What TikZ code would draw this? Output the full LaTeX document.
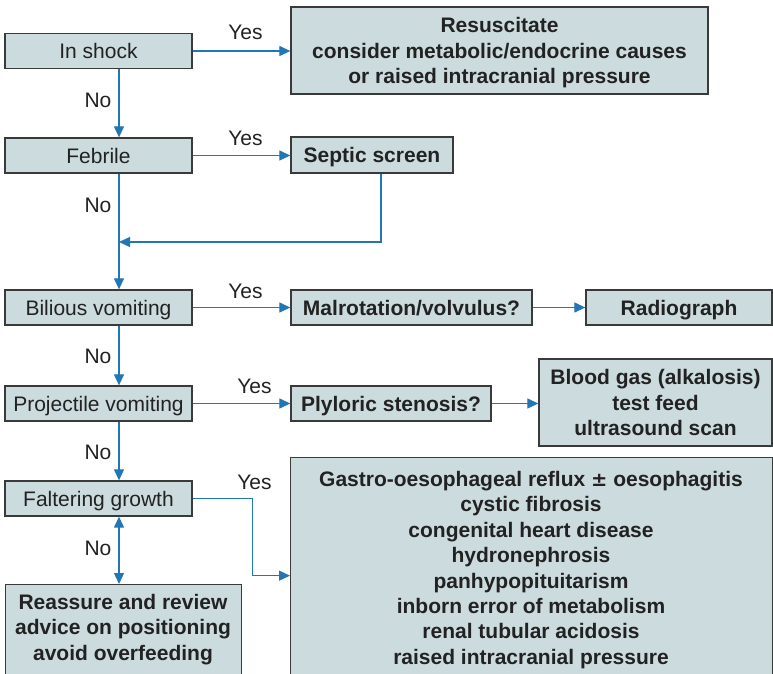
\documentclass[tikz,border=0pt]{standalone}
\usepackage{fontspec}
\setmainfont{Liberation Sans}
\newfontfamily\symfont{DejaVu Sans}
\usetikzlibrary{arrows.meta}
\definecolor{boxfill}{HTML}{CCDBDE}
\definecolor{boxline}{HTML}{3A3A3A}
\definecolor{flow}{HTML}{2177B3}
\definecolor{ink}{HTML}{222222}
\newcommand{\bodyfont}{\fontsize{21}{25.4}\selectfont}
\tikzset{
  box/.style={draw=boxline, fill=boxfill, line width=1.3pt, inner sep=0pt,
    text=ink, align=center, font=\bodyfont, text depth=0pt},
  qbox/.style={box, minimum width=187, minimum height=35},
  abox/.style={box, font=\bodyfont\bfseries},
  btext/.style={text=ink, align=center, inner sep=0pt, font=\bodyfont\bfseries},
  lab/.style={text=ink, inner sep=0pt, font=\bodyfont},
  arr/.style={draw=flow, line width=1.2pt, -{Triangle[length=11pt,width=10pt]}},
  link/.style={draw=flow, line width=1.2pt},
}
\begin{document}
\begin{tikzpicture}[x=1pt,y=-1pt]
\useasboundingbox (0,0) rectangle (773,674);
\clip (0,0) rectangle (773,674);

% question column
\node[qbox] (shock)      at (98.5,51)    {In shock};
\node[qbox] (febrile)    at (98.5,155.5) {Febrile};
\node[qbox] (bilious)    at (98.5,307.5) {Bilious vomiting};
\node[qbox] (projectile) at (98.5,403.5) {Projectile vomiting};
\node[qbox] (faltering)  at (98.5,498.5) {Faltering growth};

% action boxes
\node[abox, minimum width=417, minimum height=87] (resus) at (499.5,50.5)
  {Resuscitate\\consider metabolic/endocrine causes\\or raised intracranial pressure};
\node[abox, minimum width=162, minimum height=36] (septic) at (372,155) {Septic screen};
\node[abox, minimum width=241, minimum height=35] (malrot) at (411.5,307.5) {Malrotation/volvulus?};
\node[abox, minimum width=186, minimum height=35] (radio) at (679,307.5) {Radiograph};
\node[abox, minimum width=200, minimum height=35] (pyloric) at (391,403.5) {Plyloric stenosis?};
\node[abox, minimum width=233, minimum height=87] (blood) at (655.5,402.5)
  {Blood gas (alkalosis)\\test feed\\ultrasound scan};

% boxes running off the lower edge
\node[box, anchor=north west, minimum width=482, minimum height=236] (gastro) at (290,457) {};
\node[btext] (gastrotext) at (531,570)
  {Gastro-oesophageal reflux {\symfont\bfseries\fontsize{19.5}{25.4}\selectfont±} oesophagitis\\
   cystic fibrosis\\congenital heart disease\\hydronephrosis\\panhypopituitarism\\
   inborn error of metabolism\\renal tubular acidosis\\raised intracranial pressure};
\node[box, anchor=north west, minimum width=236, minimum height=120] (reassure) at (5,584) {};
\node[btext] (reassuretext) at (123,629.5)
  {Reassure and review\\advice on positioning\\avoid overfeeding};

% connectors; the main column runs down at x = 119
\coordinate (col) at (119,0);
\coordinate (merge) at (119,242);
\draw[arr] (shock.east) -- (resus.west |- shock.east);
\draw[arr] (shock.south -| col) -- (febrile.north -| col);
\draw[arr] (febrile.east) -- (septic.west |- febrile.east);
\draw[link] (febrile.south -| col) -- (merge);
\draw[arr] ([xshift=9pt]septic.south) |- (merge);
\draw[arr] (merge) -- (bilious.north -| col);
\draw[arr] (bilious.east) -- (malrot.west);
\draw[arr] (malrot.east) -- (radio.west);
\draw[arr] (bilious.south -| col) -- (projectile.north -| col);
\draw[arr] (projectile.east) -- (pyloric.west);
\draw[arr] (pyloric.east) -- (blood.west |- pyloric.east);
\draw[arr] (projectile.south -| col) -- (faltering.north -| col);
\draw[arr] (faltering.east) -- ++(60,0) |- (gastro.west);
\draw[arr, {Triangle[length=11pt,width=10pt]}-{Triangle[length=11pt,width=10pt]}]
  (faltering.south -| col) -- (reassure.north -| col);

% branch labels
\node[lab] (y1) at (245.5,32)  {Yes};
\node[lab] (y2) at (245.5,138) {Yes};
\node[lab] (y3) at (245.5,291) {Yes};
\node[lab] (y4) at (254.5,386) {Yes};
\node[lab] (y5) at (254.5,482) {Yes};
\node[lab] (n1) at (98,100) {No};
\node[lab] (n2) at (98,205) {No};
\node[lab] (n3) at (98,356) {No};
\node[lab] (n4) at (98,452) {No};
\node[lab] (n5) at (98,548) {No};
\end{tikzpicture}
\end{document}
